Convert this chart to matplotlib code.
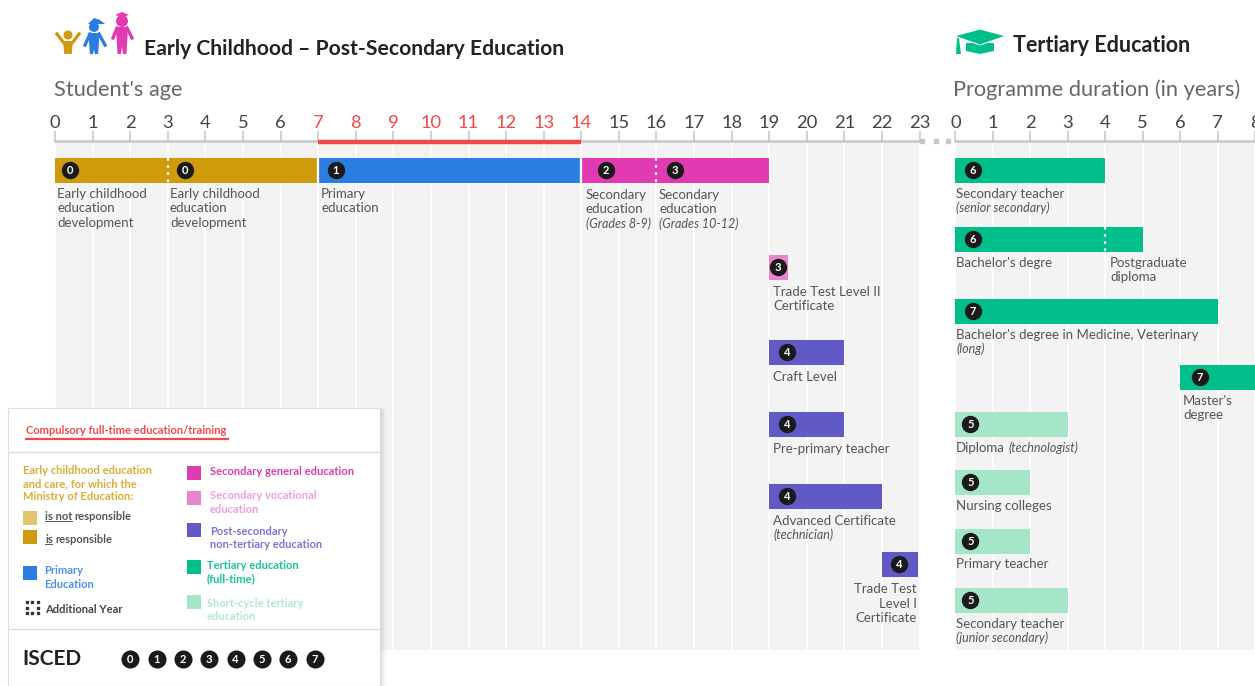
import matplotlib
matplotlib.use("Agg")
import matplotlib.pyplot as plt
from matplotlib.patches import Rectangle, Polygon, Circle

plt.rcParams['font.family'] = ['Lato', 'DejaVu Sans']

W, H = 1255, 686
OCHRE, OCHRE_L = '#cf9b0c', '#e3c36f'
BLUE, MAGENTA, PINK = '#2a7de1', '#e03bb0', '#ea84cf'
INDIGO, GREEN, MINT = '#6159c6', '#00bf8a', '#a5e6c8'
RED, INK, GREY, TICK = '#f2484a', '#222222', '#555555', '#c6c6c6'

# ---- data -------------------------------------------------------------
age_ticks = list(range(0, 24))
compulsory = (7, 14)
age_names = ['ECD 1', 'ECD 2', 'Primary', 'Sec 8-9', 'Sec 10-12', 'Trade II',
             'Craft', 'Pre-primary', 'Advanced', 'Trade I']
age_start = [0, 3, 7, 14, 16, 19, 19, 19, 19, 22]
age_end = [3, 7, 14, 16, 19, 19.5, 21, 21, 22, 22.95]
age_isced = [0, 0, 1, 2, 3, 3, 4, 4, 4, 4]
age_colors = [OCHRE, OCHRE, BLUE, MAGENTA, MAGENTA, PINK, INDIGO, INDIGO, INDIGO, INDIGO]

dur_ticks = list(range(0, 9))
dur_names = ['Sec teacher', "Bachelor's", 'Postgrad', 'Medicine', "Master's",
             'Diploma', 'Nursing', 'Primary teacher', 'Sec teacher jr']
dur_start = [0, 0, 4, 0, 6, 0, 0, 0, 0]
dur_end = [4, 4, 5, 7, 8, 3, 2, 2, 3]
dur_isced = [6, 6, None, 7, 7, 5, 5, 5, 5]
dur_colors = [GREEN, GREEN, GREEN, GREEN, GREEN, MINT, MINT, MINT, MINT]
isced_levels = [0, 1, 2, 3, 4, 5, 6, 7]

# ---- layout (pixel tops of the rows, badge offsets in axis units) ------
BAR_H = 25
age_tops = [158, 158, 158, 158, 158, 255, 340, 412, 484, 552]
age_badge = [0.40, 0.45, 0.47, 0.66, 0.50, 0.24, 0.47, 0.47, 0.47, 0.45]
dur_tops = [158, 227, 227, 299, 365, 412, 470, 529, 588]
dur_badge = [0.47, 0.47, None, 0.47, 0.52, 0.40, 0.40, 0.40, 0.40]

fig = plt.figure(figsize=(W / 100, H / 100), dpi=100, facecolor='white')


def make_axes(x0, x1, xlim, ticks):
    ax = fig.add_axes([x0 / W, 1 - 650 / H, (x1 - x0) / W, (650 - 141) / H])
    ax.set_xlim(*xlim)
    ax.set_ylim(650, 141)
    ax.set_facecolor('#f3f3f3')
    for s in ('left', 'right', 'bottom'):
        ax.spines[s].set_visible(False)
    ax.spines['top'].set_color(TICK)
    ax.spines['top'].set_linewidth(1.8)
    ax.xaxis.tick_top()
    ax.set_xticks(ticks)
    ax.set_xticklabels([str(t) for t in ticks])
    ax.tick_params(axis='x', length=7.2, width=1.1, color=TICK, pad=0,
                   labelsize=13.2, labelcolor='#444444')
    ax.set_yticks([])
    ax.vlines(ticks, 141, 650, color='white', lw=1.3, zorder=1)
    return ax


def draw_bars(ax, starts, ends, tops, colors, isced, badge):
    for s, e, t, c, lvl, b in zip(starts, ends, tops, colors, isced, badge):
        ax.barh(t + BAR_H / 2, e - s, left=s, height=BAR_H, color=c, lw=0, zorder=2)
        if lvl is not None:
            ax.plot([s + b], [t + BAR_H / 2], 'o', ms=12.5, mfc='#1a1a1a', mec='none', zorder=3)
            ax.text(s + b, t + BAR_H / 2 + 0.3, str(lvl), color='white', fontsize=8,
                    fontweight='bold', ha='center', va='center', zorder=4)


axL = make_axes(55, 919.6, (0, 23), age_ticks)
axR = make_axes(955.5, 1255, (0, 8), dur_ticks)

for lab, t in zip(axL.get_xticklabels(), age_ticks):
    if compulsory[0] <= t <= compulsory[1]:
        lab.set_color(RED)

draw_bars(axL, age_start, age_end, age_tops, age_colors, age_isced, age_badge)
draw_bars(axR, dur_start, dur_end, dur_tops, dur_colors, dur_isced, dur_badge)

axL.plot(compulsory, [142, 142], color=RED, lw=3.2, solid_capstyle='butt', clip_on=False, zorder=5)
axL.vlines([7, 14], 158, 183, color='white', lw=1.6, zorder=3)
axL.vlines([3, 16], 158, 183, color='white', lw=1.6, linestyles=(0, (1.2, 2)), zorder=3)
axR.vlines([4], 227, 252, color='white', lw=1.6, linestyles=(0, (1.2, 2)), zorder=3)

# ---- overlay in pixel coordinates --------------------------------------
ov = fig.add_axes([0, 0, 1, 1], zorder=10)
ov.set_xlim(0, W)
ov.set_ylim(H, 0)
ov.axis('off')
ov.patch.set_alpha(0)


def T(x, y, s, size=9, color=GREY, weight='normal', style='normal', ha='left', z=12):
    ov.text(x, y, s, fontsize=size, color=color, fontweight=weight, fontstyle=style,
            ha=ha, va='center', zorder=z)


# headings
T(144, 49, 'Early Childhood – Post-Secondary Education', 15.2, INK, 'bold')
T(1013, 46, 'Tertiary Education', 15.5, INK, 'bold')
T(54, 90, "Student's age", 15.7, '#666666')
T(953, 90, 'Programme duration (in years)', 15.7, '#666666')

# break dots
ov.plot([922, 936, 948], [141, 141, 141], 's', ms=2.8, color=TICK)

# bar captions
BODY = 9.5
cap = [
    (57, 194, 'Early childhood'), (57, 208, 'education'), (57, 223, 'development'),
    (170, 194, 'Early childhood'), (170, 208, 'education'), (170, 223, 'development'),
    (321, 194, 'Primary'), (321, 208, 'education'),
    (586, 195, 'Secondary'), (586, 209, 'education'),
    (659, 195, 'Secondary'), (659, 209, 'education'),
    (773, 292, 'Trade Test Level II'), (773, 306, 'Certificate'),
    (773, 377, 'Craft Level'), (773, 449, 'Pre-primary teacher'),
    (773, 521, 'Advanced Certificate'),
    (956, 194, 'Secondary teacher'), (956, 263, "Bachelor's degre"),
    (1110, 263, 'Postgraduate'), (1110, 277, 'diploma'),
    (956, 335, "Bachelor's degree in Medicine, Veterinary"),
    (1183, 401, "Master's"), (1183, 415, 'degree'),
    (956, 448, 'Diploma'), (956, 506, 'Nursing colleges'),
    (956, 564, 'Primary teacher'), (956, 624, 'Secondary teacher'),
]
for x, y, s in cap:
    T(x, y, s, BODY)
for x, y, s in [(917, 589, 'Trade Test'), (917, 604, 'Level I'), (917, 618, 'Certificate')]:
    T(x, y, s, BODY, ha='right')
ital = [
    (586, 223.5, '(Grades 8-9)'), (659, 223.5, '(Grades 10-12)'), (773, 534.5, '(technician)'),
    (956, 207.5, '(senior secondary)'), (956, 348.5, '(long)'),
    (1008, 447.5, '(technologist)'), (956, 637.5, '(junior secondary)'),
]
for x, y, s in ital:
    T(x, y, s, 9, style='italic')


# icons
def person(cx, head_y, head_r, top, bot, sh, col):
    ov.add_patch(Circle((cx, head_y), head_r, fc=col, ec='none'))
    ov.add_patch(Polygon([(cx - sh, top), (cx + sh, top), (cx + sh * .75, bot), (cx + 1, bot),
                          (cx, (top + bot) / 2 + 6), (cx - 1, bot), (cx - sh * .75, bot)],
                         fc=col, ec='none'))


person(68, 35, 4.5, 41, 54, 5, OCHRE)
ov.plot([57, 63], [34, 42], color=OCHRE, lw=2.4)
ov.plot([79, 73], [34, 42], color=OCHRE, lw=2.4)
person(94, 27, 5, 33, 54, 5.5, BLUE)
ov.add_patch(Polygon([(88, 24), (94, 18), (100, 20), (105, 24)], fc=BLUE, ec='none'))
ov.plot([85, 90], [45, 34], color=BLUE, lw=2.4)
ov.plot([105, 99], [45, 34], color=BLUE, lw=2.4)
person(122, 21, 6, 27, 54, 6, MAGENTA)
ov.add_patch(Polygon([(115, 15), (122, 12), (129, 15), (122, 17)], fc=MAGENTA, ec='none'))
ov.plot([113, 117], [38, 28], color=MAGENTA, lw=2.4)
ov.plot([132, 127], [38, 28], color=MAGENTA, lw=2.4)

ov.add_patch(Polygon([(966, 43), (966, 51), (980, 54), (994, 51), (994, 43)], fc=GREEN, ec='none'))
ov.add_patch(Polygon([(954, 36), (980, 29), (1006, 36), (980, 45)], fc=GREEN, ec='white', lw=0.8))
ov.add_patch(Polygon([(957, 38), (959, 38), (961, 54), (956, 54)], fc=GREEN, ec='none'))

# legend panel
for i, a in enumerate([0.03, 0.04, 0.05]):
    ov.add_patch(Rectangle((8, 409), 378 - 2 * i, 277, fc='black', ec='none', alpha=a, zorder=10))
ov.add_patch(Rectangle((8, 408), 372, 278, fc='white', ec='#dddddd', lw=0.8, zorder=11))
ov.plot([8, 380], [452, 452], color='#dddddd', lw=1, zorder=12)
ov.plot([8, 380], [629, 629], color='#dddddd', lw=1, zorder=12)
T(26, 430, 'Compulsory full-time education/training', 8, RED, 'bold')
ov.plot([26, 228], [438.5, 438.5], color=RED, lw=1.6, zorder=12)

LEG = 8
for y, s in [(470.5, 'Early childhood education'), (483.5, 'and care, for which the'), (497, 'Ministry of Education:')]:
    T(23, y, s, LEG, '#d9ad3a', 'bold')
T(45, 516.5, 'is not', LEG, '#555555', 'bold')
T(74.5, 516.5, 'responsible', LEG, '#555555', 'bold')
ov.plot([45, 71.5], [521, 521], color='#555555', lw=0.7, zorder=12)
T(45, 539.5, 'is', LEG, '#555555', 'bold')
T(55, 539.5, 'responsible', LEG, '#555555', 'bold')
ov.plot([45, 52], [544, 544], color='#555555', lw=0.7, zorder=12)
T(44, 570.5, 'Primary', LEG, '#4c92ea', 'bold')
T(44, 584.5, 'Education', LEG, '#4c92ea', 'bold')
T(45, 609.5, 'Additional Year', LEG, '#444444', 'bold')
T(210, 471.5, 'Secondary general education', LEG, MAGENTA, 'bold')
T(210, 495.5, 'Secondary vocational', LEG, '#ef9fdb', 'bold')
T(210, 509.5, 'education', LEG, '#ef9fdb', 'bold')
T(210, 531.5, 'Post-secondary', LEG, '#7c74d6', 'bold')
T(210, 544.5, 'non-tertiary education', LEG, '#7c74d6', 'bold')
T(207, 565.5, 'Tertiary education', LEG, '#18c596', 'bold')
T(207, 578.5, '(full-time)', LEG, '#18c596', 'bold')
T(207, 603.5, 'Short-cycle tertiary', LEG, '#b0e8cf', 'bold')
T(207, 616.5, 'education', LEG, '#b0e8cf', 'bold')

for x, y, c in [(23, 511, OCHRE_L), (23, 530, OCHRE), (23, 566, BLUE), (187, 466, MAGENTA),
                (187, 491, PINK), (187, 523, INDIGO), (187, 560, GREEN), (187, 595, MINT)]:
    ov.add_patch(Rectangle((x, y), 14, 13.5, fc=c, ec='none', zorder=12))
ov.plot([27, 32, 38, 27, 38, 27, 32, 38], [602, 602, 602, 607.5, 607.5, 613, 613, 613], 's',
        ms=1.5, color='#333333', zorder=12)

T(22, 659, 'ISCED', 15, INK, 'bold')
for lvl, x in zip(isced_levels, [130, 156.5, 183, 209, 235.5, 262, 288, 315]):
    ov.plot([x], [659], 'o', ms=13, mfc='#1a1a1a', mec='none', zorder=12)
    ov.text(x, 659.3, str(lvl), color='white', fontsize=8, fontweight='bold',
            ha='center', va='center', zorder=13)

fig.savefig('out.png', dpi=100)
